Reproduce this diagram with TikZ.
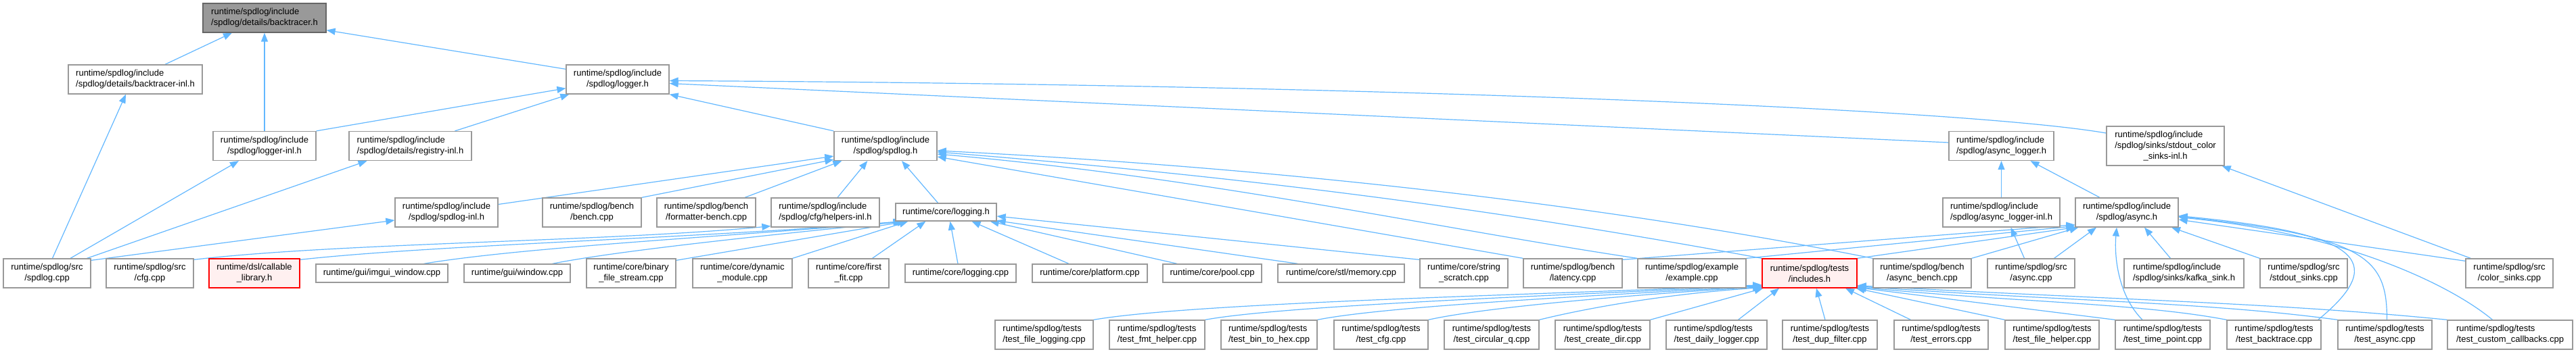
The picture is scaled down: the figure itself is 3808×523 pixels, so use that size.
\documentclass[tikz,border=0pt]{standalone}
\usepackage{fontspec}
\setmainfont{Liberation Sans}
\usetikzlibrary{arrows.meta}
\definecolor{boxgray}{HTML}{999999}
\definecolor{rootfill}{HTML}{999999}
\definecolor{rootdraw}{HTML}{666666}
\definecolor{redfill}{HTML}{FFF0F0}
\definecolor{reddraw}{HTML}{FF0000}
\definecolor{edgeblue}{HTML}{63B8FF}
\pgfdeclarelayer{bg}
\pgfsetlayers{bg,main}
\newdimen\dlw
\newcommand\dtwo[2]{\setbox0=\hbox{#1}\setbox2=\hbox{#2}%
  \ifdim\wd0>\wd2 \dlw=\wd0 \else \dlw=\wd2 \fi
  \vbox{\hbox to\dlw{#1\hfil}\hbox to\dlw{\hfil#2\hfil}}}
\newcommand\dthree[3]{\setbox0=\hbox{#1}\setbox2=\hbox{#2}\setbox4=\hbox{#3}%
  \dlw=\wd0 \ifdim\wd2>\dlw \dlw=\wd2 \fi \ifdim\wd4>\dlw \dlw=\wd4 \fi
  \vbox{\hbox to\dlw{#1\hfil}\hbox to\dlw{#2\hfil}\hbox to\dlw{\hfil#3\hfil}}}
\begin{document}
\begin{tikzpicture}[x=1pt,y=-1pt,
  nbox/.style={draw=boxgray, fill=white, line width=1.3pt, inner sep=0pt, minimum height=43pt, font=\fontsize{13}{16}\selectfont, text=black},
  onebox/.style={nbox, minimum height=27pt},
  rootbox/.style={nbox, fill=rootfill, draw=rootdraw},
  redbox/.style={nbox, fill=redfill, draw=reddraw},
  edge/.style={draw=edgeblue, line width=1.2pt, -{Triangle[length=13pt,width=10pt]}}]
\useasboundingbox (0,0) rectangle (3808,523);
% row 0-1
\node[rootbox, minimum width=182pt] (bt) at (391,26.5) {\dtwo{runtime/spdlog/include}{/spdlog/details/backtracer.h}};
\node[nbox, minimum width=198pt] (bti) at (200,117.5) {\dtwo{runtime/spdlog/include}{/spdlog/details/backtracer-inl.h}};
\node[nbox, minimum width=152pt] (lg) at (913,117.5) {\dtwo{runtime/spdlog/include}{/spdlog/logger.h}};
% row 2
\node[nbox, minimum width=152pt] (li) at (391,216) {\dtwo{runtime/spdlog/include}{/spdlog/logger-inl.h}};
\node[nbox, minimum width=181pt] (ri) at (606.5,216) {\dtwo{runtime/spdlog/include}{/spdlog/details/registry-inl.h}};
\node[nbox, minimum width=152pt] (sh) at (1309,216) {\dtwo{runtime/spdlog/include}{/spdlog/spdlog.h}};
\node[nbox, minimum width=155pt] (al) at (2958.5,216) {\dtwo{runtime/spdlog/include}{/spdlog/async\_logger.h}};
\node[nbox, minimum width=174pt, minimum height=58pt] (sc) at (3201,216) {\dthree{runtime/spdlog/include}{/spdlog/sinks/stdout\_color}{\_sinks-inl.h}};
% row 3
\node[nbox, minimum width=152pt] (si) at (660,314.5) {\dtwo{runtime/spdlog/include}{/spdlog/spdlog-inl.h}};
\node[nbox, minimum width=146pt] (bn) at (875,314.5) {\dtwo{runtime/spdlog/bench}{/bench.cpp}};
\node[nbox, minimum width=146pt] (fb) at (1044,314.5) {\dtwo{runtime/spdlog/bench}{/formatter-bench.cpp}};
\node[nbox, minimum width=160pt] (hi) at (1220,314.5) {\dtwo{runtime/spdlog/include}{/spdlog/cfg/helpers-inl.h}};
\node[onebox, minimum width=149pt, minimum height=26pt] (lh) at (1398.5,314) {runtime/core/logging.h};
\node[nbox, minimum width=173pt] (ali) at (2958.5,314.5) {\dtwo{runtime/spdlog/include}{/spdlog/async\_logger-inl.h}};
\node[nbox, minimum width=152pt] (ah) at (3144,314.5) {\dtwo{runtime/spdlog/include}{/spdlog/async.h}};
% row 4
\node[nbox, minimum width=129pt] (scpp) at (69.5,404.5) {\dtwo{runtime/spdlog/src}{/spdlog.cpp}};
\node[nbox, minimum width=129pt] (cfg) at (221.5,404.5) {\dtwo{runtime/spdlog/src}{/cfg.cpp}};
\node[redbox, minimum width=134pt] (cl) at (376,404.5) {\dtwo{runtime/dsl/callable}{\_library.h}};
\node[onebox, minimum width=195pt] (im) at (564.5,404.5) {runtime/gui/imgui\_window.cpp};
\node[onebox, minimum width=157pt] (wn) at (764.5,404.5) {runtime/gui/window.cpp};
\node[nbox, minimum width=132pt] (bf) at (933,404.5) {\dtwo{runtime/core/binary}{\_file\_stream.cpp}};
\node[nbox, minimum width=147pt] (dm) at (1097.5,404.5) {\dtwo{runtime/core/dynamic}{\_module.cpp}};
\node[nbox, minimum width=119pt] (ff) at (1254.5,404.5) {\dtwo{runtime/core/first}{\_fit.cpp}};
\node[onebox, minimum width=164pt] (lc) at (1420,404.5) {runtime/core/logging.cpp};
\node[onebox, minimum width=170pt] (pf) at (1611,404.5) {runtime/core/platform.cpp};
\node[onebox, minimum width=146pt] (pl) at (1792,404.5) {runtime/core/pool.cpp};
\node[onebox, minimum width=187pt] (mem) at (1982.5,404.5) {runtime/core/stl/memory.cpp};
\node[nbox, minimum width=130pt] (ss) at (2164,404.5) {\dtwo{runtime/core/string}{\_scratch.cpp}};
\node[nbox, minimum width=146pt] (lat) at (2325,404.5) {\dtwo{runtime/spdlog/bench}{/latency.cpp}};
\node[nbox, minimum width=160pt] (ex) at (2501,404.5) {\dtwo{runtime/spdlog/example}{/example.cpp}};
\node[redbox, minimum width=140pt] (inc) at (2675,404.5) {\dtwo{runtime/spdlog/tests}{/includes.h}};
\node[nbox, minimum width=145pt] (ab) at (2841.5,404.5) {\dtwo{runtime/spdlog/bench}{/async\_bench.cpp}};
\node[nbox, minimum width=129pt] (ac) at (3002.5,404.5) {\dtwo{runtime/spdlog/src}{/async.cpp}};
\node[nbox, minimum width=177pt] (ks) at (3228.5,404.5) {\dtwo{runtime/spdlog/include}{/spdlog/sinks/kafka\_sink.h}};
\node[nbox, minimum width=129pt] (sts) at (3405.5,404.5) {\dtwo{runtime/spdlog/src}{/stdout\_sinks.cpp}};
\node[nbox, minimum width=129pt] (cs) at (3709.5,404.5) {\dtwo{runtime/spdlog/src}{/color\_sinks.cpp}};
% row 5 tests
\node[nbox, minimum width=145pt] (t1) at (1543.5,495.5) {\dtwo{runtime/spdlog/tests}{/test\_file\_logging.cpp}};
\node[nbox, minimum width=141pt] (t2) at (1710.5,495.5) {\dtwo{runtime/spdlog/tests}{/test\_fmt\_helper.cpp}};
\node[nbox, minimum width=142pt] (t3) at (1876,495.5) {\dtwo{runtime/spdlog/tests}{/test\_bin\_to\_hex.cpp}};
\node[nbox, minimum width=139pt] (t4) at (2041.5,495.5) {\dtwo{runtime/spdlog/tests}{/test\_cfg.cpp}};
\node[nbox, minimum width=140pt] (t5) at (2205,495.5) {\dtwo{runtime/spdlog/tests}{/test\_circular\_q.cpp}};
\node[nbox, minimum width=140pt] (t6) at (2369,495.5) {\dtwo{runtime/spdlog/tests}{/test\_create\_dir.cpp}};
\node[nbox, minimum width=149pt] (t7) at (2537.5,495.5) {\dtwo{runtime/spdlog/tests}{/test\_daily\_logger.cpp}};
\node[nbox, minimum width=140pt] (t8) at (2705,495.5) {\dtwo{runtime/spdlog/tests}{/test\_dup\_filter.cpp}};
\node[nbox, minimum width=139pt] (t9) at (2869.5,495.5) {\dtwo{runtime/spdlog/tests}{/test\_errors.cpp}};
\node[nbox, minimum width=139pt] (t10) at (3033.5,495.5) {\dtwo{runtime/spdlog/tests}{/test\_file\_helper.cpp}};
\node[nbox, minimum width=140pt] (t11) at (3197,495.5) {\dtwo{runtime/spdlog/tests}{/test\_time\_point.cpp}};
\node[nbox, minimum width=139pt] (t12) at (3361.5,495.5) {\dtwo{runtime/spdlog/tests}{/test\_backtrace.cpp}};
\node[nbox, minimum width=139pt] (t13) at (3525.5,495.5) {\dtwo{runtime/spdlog/tests}{/test\_async.cpp}};
\node[nbox, minimum width=185pt] (t14) at (3710.5,495.5) {\dtwo{runtime/spdlog/tests}{/test\_custom\_callbacks.cpp}};

\begin{pgfonlayer}{bg}
\fill[white] (0,0) rectangle (3808,523);
% upper part
\draw[edge] ([xshift=44pt]bti.north) -- ([xshift=-48pt]bt.south);
\draw[edge] (li.north) -- (bt.south);
\draw[edge] ([yshift=-7pt]lg.north west) -- ([yshift=4pt]bt.south east);
\draw[edge] ([xshift=8pt]scpp.north) -- ([xshift=-14pt]bti.south);
\draw[edge] (li.north east) -- ([yshift=9pt]lg.south west);
\draw[edge] ([xshift=66pt]ri.north) -- ([xshift=5pt]lg.south west);
\draw[edge] (sh.north west) -- (lg.south east);
\draw[edge] ([yshift=5pt]al.west) -- ([yshift=-6pt]lg.east);
\draw[edge] ([yshift=19pt]sc.west) .. controls +(-214,-37) and +(1009,5) .. ([yshift=-2pt]lg.east);
\draw[edge] ([xshift=34.5pt]scpp.north) -- ([xshift=-38pt]li.south);
\draw[edge] ([xshift=59pt]scpp.north) -- ([xshift=-64pt]ri.south);
\draw[edge] ([yshift=-3pt]scpp.north east) -- ([yshift=-11.5pt]si.west);
\draw[edge] ([yshift=-2pt]cfg.north east) .. controls +(214,-25) and +(-240,23) .. ([yshift=2pt]hi.south west);
% into spdlog.h
\draw[edge] ([yshift=12pt]si.east) -- ([yshift=7pt]sh.south west);
\draw[edge] (bn.north east) -- ([yshift=2pt]sh.south west);
\draw[edge] ([xshift=57pt]fb.north) -- ([xshift=12pt]sh.south west);
\draw[edge] ([xshift=18pt]hi.north) -- ([xshift=50pt]sh.south west);
\draw[edge] ([xshift=-12pt]lh.north) -- ([xshift=24pt]sh.south);
\draw[edge] (ab.north west) .. controls +(-400,-80) and +(500,25) .. ([yshift=-7pt]sh.east);
\draw[edge] (inc.north west) .. controls +(-350,-65) and +(500,40) .. ([yshift=-9pt]sh.east);
\draw[edge] (ex.north west) .. controls +(-300,-45) and +(400,35) .. ([yshift=-12pt]sh.east);
\draw[edge] (lat.north west) -- ([yshift=-16pt]sh.east);
% into logging.h
\draw[edge] ([yshift=-2pt]cl.north east) .. controls +(200,-22) and +(-300,25) .. ([xshift=10pt]lh.south west);
\draw[edge] ([xshift=62pt]im.north) .. controls +(150,-25) and +(-250,22) .. ([xshift=12pt]lh.south west);
\draw[edge] ([xshift=52pt]wn.north) .. controls +(100,-20) and +(-180,18) .. ([xshift=14pt]lh.south west);
\draw[edge] ([yshift=-3pt]bf.north east) -- ([xshift=16pt]lh.south west);
\draw[edge] (dm.north east) -- ([xshift=19pt]lh.south west);
\draw[edge] ([xshift=35pt]ff.north) -- ([xshift=45pt]lh.south west);
\draw[edge] ([xshift=-4pt]lc.north) -- ([xshift=6pt]lh.south);
\draw[edge] ([xshift=-31pt]pf.north) -- ([xshift=38pt]lh.south);
\draw[edge] ([xshift=-52pt]pl.north) -- ([xshift=-10pt]lh.south east);
\draw[edge] ([xshift=-64pt]mem.north) -- ([yshift=1pt]lh.south east);
\draw[edge] ([yshift=-2pt]ss.north west) -- ([yshift=-6pt]lh.east);
% async area
\draw[edge] ([yshift=-2pt]lat.north east) -- ([yshift=4pt]ah.south west);
\draw[edge] (ex.north east) -- ([yshift=2pt]ah.south west);
\draw[edge] (inc.north east) -- (ah.south west);
\draw[edge] (ab.north east) -- ([xshift=5pt]ah.south west);
\draw[edge] ([xshift=-10pt]ac.north) -- ([xshift=14pt]ali.south);
\draw[edge] ([xshift=34pt]ac.north) -- ([xshift=-45pt]ah.south);
\draw[edge] (ali.north) -- (al.south);
\draw[edge] ([xshift=-40pt]ah.north) -- ([xshift=43pt]al.south);
\draw[edge] ([xshift=-20pt]ks.north) -- ([xshift=26pt]ah.south);
\draw[edge] (sts.north west) -- ([xshift=66pt]ah.south);
\draw[edge] ([yshift=-4pt]cs.north west) -- ([yshift=-10.5pt]ah.east);
\draw[edge] ([xshift=8pt]cs.north west) -- ([xshift=-4pt]sc.south east);
\draw[edge] ([xshift=-30pt]t11.north) .. controls +(-35,-35) and +(-4,45) .. ([xshift=-15pt]ah.south);
\draw[edge] ([xshift=-5pt]t12.north east) .. controls +(110,-90) and +(260,25) .. ([yshift=-5pt]ah.east);
\draw[edge] ([xshift=3pt]t13.north) .. controls +(0,-90) and +(280,30) .. ([yshift=-6pt]ah.east);
\draw[edge] ([xshift=-26pt]t14.north) .. controls +(-60,-50) and +(250,25) .. ([yshift=-7pt]ah.east);
% tests into includes.h
\draw[edge] (t1.north east) .. controls +(150,-26) and +(-300,14) .. ([yshift=5pt]inc.south west);
\draw[edge] (t2.north east) .. controls +(120,-22) and +(-280,14) .. ([yshift=4pt]inc.south west);
\draw[edge] (t3.north east) .. controls +(100,-20) and +(-250,14) .. ([yshift=3pt]inc.south west);
\draw[edge] (t4.north east) .. controls +(80,-18) and +(-200,12) .. ([yshift=2pt]inc.south west);
\draw[edge] (t5.north east) .. controls +(60,-15) and +(-150,10) .. ([yshift=1pt]inc.south west);
\draw[edge] (t6.north east) -- ([xshift=2pt]inc.south west);
\draw[edge] ([xshift=32pt]t7.north) -- ([xshift=-45pt]inc.south);
\draw[edge] ([xshift=-7pt]t8.north) -- ([xshift=10pt]inc.south);
\draw[edge] ([xshift=-45pt]t9.north) -- ([xshift=53pt]inc.south);
\draw[edge] (t10.north west) -- ([xshift=-2pt]inc.south east);
\draw[edge] (t11.north west) -- ([yshift=1pt]inc.south east);
\draw[edge] (t12.north west) .. controls +(-130,-25) and +(220,22) .. ([yshift=2pt]inc.south east);
\draw[edge] (t13.north west) .. controls +(-200,-27) and +(300,22) .. ([yshift=3pt]inc.south east);
\draw[edge] (t14.north west) .. controls +(-250,-25) and +(400,22) .. ([yshift=4pt]inc.south east);
\end{pgfonlayer}
\end{tikzpicture}
\end{document}
